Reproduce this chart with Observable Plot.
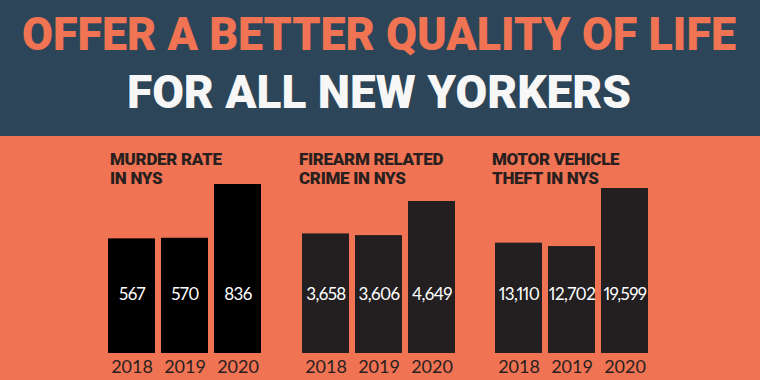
<!DOCTYPE html>
<html><head><meta charset="utf-8">
<script src="https://cdn.jsdelivr.net/npm/d3@7"></script>
<script src="https://cdn.jsdelivr.net/npm/@observablehq/plot@0.6"></script>
<style>
html,body{margin:0;padding:0;}
#root{position:relative;width:760px;height:380px;background:#f07453;overflow:hidden;font-family:Lato,"Open Sans",sans-serif;}
#header{position:absolute;left:0;top:0;}
.panel{position:absolute;top:136px;}
.ptitle{position:absolute;font-family:Roboto,sans-serif;font-weight:900;font-size:17px;line-height:19px;color:#2a1f1f;white-space:nowrap;letter-spacing:-0.3px;}
</style></head><body><div id="root"></div>
<script>
const headline = ["OFFER A BETTER QUALITY OF LIFE", "FOR ALL NEW YORKERS"];
const years = ["2018", "2019", "2020"];
const murder = [567, 570, 836];
const firearm = [3658, 3606, 4649];
const vehicle = [13110, 12702, 19599];
const panelTitles = [["MURDER RATE", "IN NYS"], ["FIREARM RELATED", "CRIME IN NYS"], ["MOTOR VEHICLE", "THEFT IN NYS"]];
const series = [murder, firearm, vehicle];

const root = document.getElementById("root");

// header band
const hdr = d3.select(root).append("svg").attr("id", "header")
  .attr("width", 760).attr("height", 136);
hdr.append("rect").attr("width", 760).attr("height", 136).attr("fill", "#2c4558");
const hl = [
  {x: 22, y: 50, len: 714, fill: "#f07453"},
  {x: 127, y: 108, len: 504, fill: "#f7f7f7"}
];
hl.forEach((h, i) => {
  hdr.append("text").attr("x", h.x).attr("y", h.y)
    .attr("textLength", h.len).attr("lengthAdjust", "spacingAndGlyphs")
    .attr("font-family", "Roboto, sans-serif").attr("font-weight", 900)
    .attr("font-size", 46).attr("fill", h.fill).text(headline[i]);
});

// panels
const layout = [
  {left: 100, marginLeft: 7, marginTop: 48, fill: "#000000", titleX: 10},
  {left: 290, marginLeft: 11, marginTop: 65, fill: "#231f20", titleX: 9},
  {left: 480, marginLeft: 14, marginTop: 52, fill: "#231f20", titleX: 12}
];

series.forEach((vals, i) => {
  const L = layout[i];
  const data = years.map((y, j) => ({year: y, value: vals[j]}));
  const chart = Plot.plot({
    width: 190,
    height: 244,
    marginLeft: L.marginLeft,
    marginRight: 190 - L.marginLeft - 155,
    marginTop: L.marginTop,
    marginBottom: 27,
    style: {background: "transparent", fontFamily: "Lato, sans-serif", overflow: "visible"},
    x: {domain: years, paddingInner: 0.12, paddingOuter: 0, label: null},
    y: {axis: null, nice: false},
    marks: [
      Plot.barY(data, {x: "year", y: "value", fill: L.fill}),
      Plot.text(data, {x: "year", frameAnchor: "bottom", dy: -59, text: d => d3.format(",")(d.value),
        fill: "white", fontSize: 17, lineAnchor: "middle", fontVariant: "proportional-nums",
        style: "letter-spacing:-0.6px"}),
      Plot.axisX({tickSize: 0, tickPadding: 7, fontSize: 18, color: "#2a1f1f", label: null})
    ]
  });
  d3.select(chart).selectAll("g[aria-label=text] text").style("letter-spacing", "-0.6px");
  const wrap = document.createElement("div");
  wrap.className = "panel";
  wrap.style.left = L.left + "px";
  wrap.appendChild(chart);
  root.appendChild(wrap);

  const t = document.createElement("div");
  t.className = "ptitle";
  t.style.left = (L.left + L.titleX) + "px";
  t.style.top = "150px";
  t.innerHTML = panelTitles[i].join("<br>");
  root.appendChild(t);
});
</script>
</body></html>
